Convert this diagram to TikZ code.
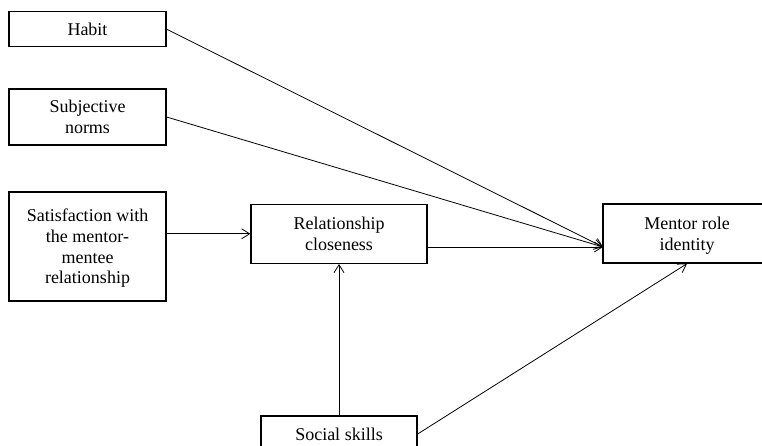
\documentclass[tikz,border=0pt]{standalone}
\usepackage{fontspec}
\setmainfont{Liberation Serif}
\usetikzlibrary{arrows.meta}
\begin{document}
\begin{tikzpicture}[x=1pt,y=-1pt,
  box/.style={draw, line width=1.3pt, align=center, inner sep=0pt, text depth=0pt,
    font=\fontsize{18}{20.7}\selectfont},
  link/.style={line width=0.8pt, -{Straight Barb[length=8pt,width=10pt]}}]
\useasboundingbox (0,0) rectangle (762,445);
\clip (0,0) rectangle (762,445);
\node[box, minimum width=157pt, minimum height=35pt] (habit) at (87.5,29.2) {Habit};
\node[box, minimum width=157pt, minimum height=56pt] (subj) at (87.5,117) {Subjective\\norms};
\node[box, minimum width=157pt, minimum height=109pt] (sat) at (87.5,246.5) {Satisfaction with\\the mentor-\\mentee\\relationship};
\node[box, minimum width=176pt, minimum height=59pt] (rel) at (339,233.8) {Relationship\\closeness};
\node[box, minimum width=168pt, minimum height=59pt] (mentor) at (687,233.5) {Mentor role\\identity};
\node[box, minimum width=156pt, minimum height=36pt] (social) at (339,434) {Social skills};
\coordinate (min) at (603,247);
\draw[link] (habit.east) -- (min);
\draw[link] (subj.east) -- (min);
\draw[link] (min -| rel.east) -- (min);
\draw[link] (sat.east |- rel.west) -- (rel.west);
\draw[link] (social.north) -- (rel.south);
\draw[link] (social.east) -- (mentor.south);
\end{tikzpicture}
\end{document}
